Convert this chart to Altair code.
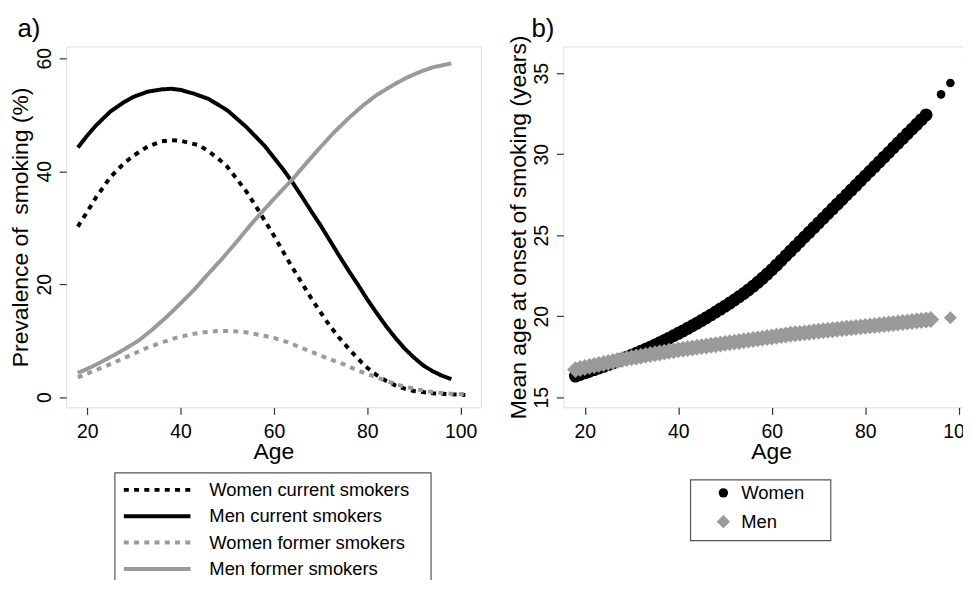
import altair as alt
import pandas as pd

FONT = "Liberation Sans"
BLACK = "#000000"
GREY = "#9a9a9a"
FRAME = "#333333"
LEGFRAME = "#555555"

# ---------------- panel a) : prevalence of smoking by age ----------------
series_names = ["Women current smokers", "Men current smokers",
                "Women former smokers", "Men former smokers"]

wc_age = [18, 20, 22, 25, 28, 30, 33, 36, 38, 40, 42, 44, 46, 48, 50, 52, 54, 56, 58, 60,
          62, 64, 66, 68, 70, 72, 74, 76, 78, 80, 82, 84, 86, 88, 90, 94, 98, 101]
wc_val = [30.2, 32.8, 35.5, 39.0, 41.5, 42.8, 44.4, 45.3, 45.5, 45.4, 45.0, 44.6, 43.5, 42.3,
          40.8, 38.7, 36.5, 34.0, 31.3, 28.6, 25.7, 22.9, 20.2, 17.5, 15.0, 12.6, 10.5, 8.6,
          6.8, 5.2, 3.9, 2.9, 2.1, 1.5, 1.1, 0.7, 0.5, 0.4]

mc_age = [18, 20, 22, 25, 28, 30, 33, 36, 38, 40, 43, 46, 50, 54, 58, 60, 62, 64, 66, 68,
          70, 72, 74, 76, 78, 80, 82, 84, 86, 88, 90, 92, 94, 96, 98]
mc_val = [44.2, 46.3, 48.2, 50.6, 52.3, 53.2, 54.1, 54.5, 54.6, 54.4, 53.7, 52.8, 50.8, 47.9,
          44.5, 42.4, 40.3, 38.0, 35.5, 32.9, 30.4, 27.7, 25.0, 22.4, 19.9, 17.3, 14.9, 12.6,
          10.5, 8.6, 7.0, 5.6, 4.6, 3.8, 3.2]

wf_age = [18, 21, 24, 27, 30, 33, 36, 39, 42, 45, 48, 51, 54, 57, 60, 63, 66, 69, 72, 75,
          78, 81, 84, 87, 90, 94, 98, 101]
wf_val = [3.5, 4.5, 5.5, 6.6, 7.7, 8.8, 9.7, 10.5, 11.1, 11.5, 11.7, 11.7, 11.5, 11.0, 10.5,
          9.7, 8.7, 7.7, 6.7, 5.8, 4.7, 3.8, 2.9, 2.1, 1.5, 0.9, 0.6, 0.5]

mf_age = [18, 20, 22, 25, 28, 31, 34, 37, 40, 43, 46, 49, 52, 55, 58, 61, 64, 67, 70, 73,
          76, 79, 82, 85, 88, 91, 94, 98]
mf_val = [4.3, 5.0, 5.8, 7.1, 8.5, 10.0, 12.0, 14.2, 16.6, 19.1, 21.9, 24.6, 27.5, 30.5, 33.3,
          36.0, 38.6, 41.5, 44.3, 47.0, 49.4, 51.6, 53.5, 55.0, 56.4, 57.5, 58.4, 59.1]

a_xticks = [20, 40, 60, 80, 100]
a_yticks = [0, 20, 40, 60]

# ---------------- panel b) : mean age at onset of smoking ----------------
sex_names = ["Women", "Men"]

w_age = list(range(18, 94))
w_onset = [16.30, 16.40, 16.50, 16.60, 16.70, 16.80, 16.90, 17.01, 17.12, 17.23, 17.35,
           17.47, 17.59, 17.71, 17.83, 17.96, 18.09, 18.22, 18.36, 18.50, 18.64, 18.79,
           18.94, 19.09, 19.25, 19.41, 19.57, 19.74, 19.91, 20.08, 20.26, 20.44, 20.62,
           20.81, 21.00, 21.20, 21.40, 21.62, 21.85, 22.09, 22.34, 22.60, 22.87, 23.15,
           23.44, 23.73, 24.02, 24.31, 24.60, 24.89, 25.18, 25.47, 25.76, 26.05, 26.34,
           26.63, 26.92, 27.21, 27.50, 27.79, 28.08, 28.37, 28.66, 28.95, 29.24, 29.53,
           29.82, 30.11, 30.40, 30.69, 30.98, 31.27, 31.56, 31.85, 32.14, 32.43]
w_age_sparse = [96.2, 98.2, 101.8]
w_onset_sparse = [33.7, 34.4, 36.0]

m_age = list(range(18, 95))
m_onset = [16.70, 16.77, 16.83, 16.90, 16.96, 17.02, 17.08, 17.14, 17.20, 17.26, 17.32, 17.38,
           17.43, 17.48, 17.53, 17.58, 17.63, 17.68, 17.73, 17.78, 17.83, 17.87, 17.92, 17.96,
           18.00, 18.04, 18.08, 18.12, 18.16, 18.20, 18.24, 18.28, 18.32, 18.36, 18.40, 18.44,
           18.48, 18.52, 18.56, 18.60, 18.64, 18.68, 18.72, 18.76, 18.80, 18.84, 18.88, 18.91,
           18.94, 18.97, 19.00, 19.04, 19.07, 19.10, 19.13, 19.16, 19.19, 19.22, 19.25, 19.28,
           19.31, 19.34, 19.37, 19.40, 19.43, 19.46, 19.49, 19.52, 19.55, 19.58, 19.61, 19.64,
           19.67, 19.70, 19.73, 19.76, 19.79]
m_age_sparse = [98.2]
m_onset_sparse = [19.9]

b_xticks = [20, 40, 60, 80, 100]
b_yticks = [15, 20, 25, 30, 35]

# ---------------- tables ----------------
rows = []
for name, ages, vals in [(series_names[0], wc_age, wc_val), (series_names[1], mc_age, mc_val),
                         (series_names[2], wf_age, wf_val), (series_names[3], mf_age, mf_val)]:
    for a, v in zip(ages, vals):
        rows.append({"series": name, "age": a, "prev": v})
dfa = pd.DataFrame(rows)

dfw = pd.DataFrame({"age": w_age, "onset": w_onset})
dfw_s = pd.DataFrame({"age": w_age_sparse, "onset": w_onset_sparse})
dfm = pd.DataFrame({"age": m_age, "onset": m_onset})
dfm_s = pd.DataFrame({"age": m_age_sparse, "onset": m_onset_sparse})
one = pd.DataFrame({"k": [0]})

# ---------------- styling ----------------
TICK_FS = 19.5
TITLE_FS = 23
LEG_FS = 18.5
W, H = 417, 363

color_scale = alt.Scale(domain=series_names, range=[BLACK, BLACK, GREY, GREY])
dash_scale = alt.Scale(domain=series_names, range=[[5, 5.3], [1, 0], [5, 5.3], [1, 0]])

common_axis = dict(domain=False, grid=False, tickSize=7, tickColor=FRAME, tickWidth=1.2,
                   labelFont=FONT, labelFontSize=TICK_FS, labelColor="black", labelFlush=False,
                   labelOverlap=False, titleFont=FONT, titleFontSize=TITLE_FS,
                   titleFontWeight="normal", titleColor="black")


def xaxis(vals):
    return alt.Axis(values=vals, labelPadding=8, titlePadding=0, title="Age", **common_axis)


def yaxis(vals, title):
    return alt.Axis(values=vals, labelAngle=270, labelAlign="center",
                    labelBaseline="alphabetic", labelPadding=9, titlePadding=1.5,
                    title=title, **common_axis)


def panel_label(txt, dx):
    return alt.Chart(pd.DataFrame({"t": [txt]})).mark_text(
        align="left", baseline="alphabetic", fontSize=26, font=FONT, color="black"
    ).encode(x=alt.value(dx), y=alt.value(-9), text="t:N")


def frame(x1, x2, y1, y2):
    return alt.Chart(one).mark_rect(fill="white", fillOpacity=0, stroke=LEGFRAME,
                                    strokeWidth=1.2).encode(
        x=alt.value(x1), x2=alt.value(x2), y=alt.value(y1), y2=alt.value(y2))


# ---------------- panel a ----------------
lines = alt.Chart(dfa).mark_line(strokeWidth=4, strokeCap="butt").encode(
    x=alt.X("age:Q", scale=alt.Scale(domain=[15.5, 104.3], nice=False, zero=False),
            axis=xaxis(a_xticks)),
    y=alt.Y("prev:Q", scale=alt.Scale(domain=[-1.8, 62.1], nice=False, zero=False),
            axis=yaxis(a_yticks, "Prevalence of\u00a0 smoking (%)")),
    color=alt.Color("series:N", scale=color_scale, legend=None),
    strokeDash=alt.StrokeDash("series:N", scale=dash_scale, legend=None),
    detail="series:N",
)

dleg = pd.DataFrame({"series": series_names})
leg_y = alt.Y("series:N", sort=series_names, axis=None,
              scale=alt.Scale(range=[432.75, 538.75], padding=0))
leg_rules = alt.Chart(dleg).mark_rule(strokeWidth=4, strokeCap="butt").encode(
    x=alt.value(58), x2=alt.value(125), y=leg_y,
    color=alt.Color("series:N", scale=color_scale, legend=None),
    strokeDash=alt.StrokeDash("series:N", scale=dash_scale, legend=None),
)
leg_text = alt.Chart(dleg).mark_text(align="left", baseline="middle", fontSize=LEG_FS,
                                     font=FONT, color="black").encode(
    x=alt.value(144), y=leg_y, text="series:N")
legend_a = alt.layer(frame(49, 367, 429, 545), leg_rules, leg_text)

panel_a = alt.layer(lines, legend_a, panel_label("a)", -49)).resolve_scale(
    y="independent").properties(width=W, height=H)

# ---------------- panel b ----------------
xb = alt.X("age:Q", scale=alt.Scale(domain=[15.4, 104.3], nice=False, zero=False),
           axis=xaxis(b_xticks))
yb = alt.Y("onset:Q", scale=alt.Scale(domain=[14.37, 36.66], nice=False, zero=False),
           axis=yaxis(b_yticks, "Mean age at onset of smoking (years)"))
w_dense = alt.Chart(dfw).mark_point(filled=True, shape="circle", size=170, opacity=1,
                                    color=BLACK).encode(x=xb, y=yb)
w_sparse = alt.Chart(dfw_s).mark_point(filled=True, shape="circle", size=75, opacity=1,
                                       color=BLACK).encode(x=xb, y=yb)
m_dense = alt.Chart(dfm).mark_point(filled=True, shape="diamond", size=290, opacity=1,
                                    color=GREY).encode(x=xb, y=yb)
m_sparse = alt.Chart(dfm_s).mark_point(filled=True, shape="diamond", size=170, opacity=1,
                                       color=GREY).encode(x=xb, y=yb)
points_b = alt.layer(w_dense, w_sparse, m_dense, m_sparse)

dlegb = pd.DataFrame({"sex": sex_names})
legb_y = alt.Y("sex:N", sort=sex_names, axis=None,
               scale=alt.Scale(range=[449, 478], padding=0))
legb_pts = alt.Chart(dlegb).mark_point(filled=True, opacity=1).encode(
    x=alt.value(161), y=legb_y,
    shape=alt.Shape("sex:N", scale=alt.Scale(domain=sex_names, range=["circle", "diamond"]),
                    legend=None),
    color=alt.Color("sex:N", scale=alt.Scale(domain=sex_names, range=[BLACK, GREY]),
                    legend=None),
    size=alt.Size("sex:N", scale=alt.Scale(domain=sex_names, range=[90, 180]), legend=None),
)
legb_text = alt.Chart(dlegb).mark_text(align="left", baseline="middle", fontSize=LEG_FS,
                                       font=FONT, color="black").encode(
    x=alt.value(179), y=legb_y, text="sex:N")
legend_b = alt.layer(frame(128, 269, 436, 497), legb_pts, legb_text)

panel_b = alt.layer(points_b, legend_b, panel_label("b)", -32)).resolve_scale(
    y="independent").properties(width=418, height=H)

chart = alt.hconcat(panel_a, panel_b, spacing=25).resolve_scale(
    color="independent", strokeDash="independent", shape="independent", size="independent"
).properties(
    padding={"left": 1.5, "top": 6, "right": -17, "bottom": -12}
).configure_view(stroke=FRAME, strokeWidth=1.5).configure(font=FONT)

chart.save("out.html", embed_options={"renderer": "svg", "actions": False})
